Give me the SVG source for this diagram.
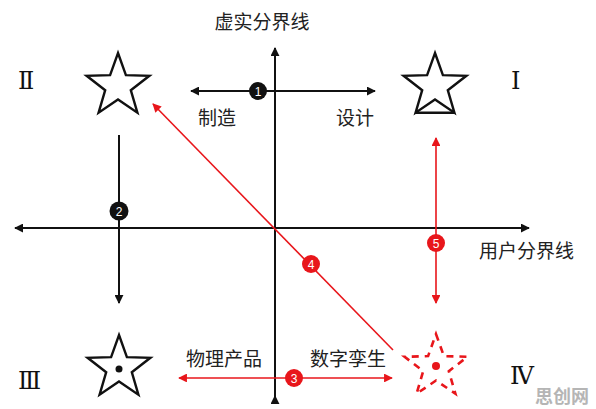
<svg xmlns="http://www.w3.org/2000/svg" width="596" height="409" viewBox="0 0 596 409">
<style>
.t{font-family:"Noto Sans CJK SC",sans-serif;font-size:19px;fill:#222}
.r{font-family:"DejaVu Serif","Liberation Serif","Noto Sans CJK SC",serif;font-size:24px;fill:#111}
.n{font-family:"Liberation Sans",Arial,sans-serif;font-size:12px;fill:#fff;text-anchor:middle}
.k{stroke:#111;stroke-width:2;fill:none}
.rd{stroke:#e8161b;stroke-width:1.6;fill:none}
.star{fill:#fff;stroke:#111;stroke-width:2.4;stroke-linejoin:miter}
</style>
<defs>
<marker id="ak" viewBox="0 0 10 10" refX="9" refY="5" markerWidth="4.5" markerHeight="4.5" orient="auto-start-reverse" markerUnits="strokeWidth"><path d="M0,0 L10,5 L0,10 Z" fill="#111"/></marker>
<marker id="ar" viewBox="0 0 10 10" refX="9" refY="5" markerWidth="5.5" markerHeight="5.5" orient="auto-start-reverse" markerUnits="strokeWidth"><path d="M0,0 L10,5 L0,10 Z" fill="#e8161b"/></marker>
<path id="sp" d="M0,-33 L7.9,-10.9 L31.4,-10.2 L12.8,4.2 L19.4,26.7 L0,13.5 L-19.4,26.7 L-12.8,4.2 L-31.4,-10.2 L-7.9,-10.9 Z"/>
</defs>
<g id="connectors">
<line class="k" x1="275" y1="397" x2="275" y2="48" marker-end="url(#ak)"/>
<line class="k" x1="15" y1="228" x2="529" y2="228" marker-start="url(#ak)" marker-end="url(#ak)"/>
<line class="k" x1="191" y1="91" x2="375" y2="91" marker-start="url(#ak)" marker-end="url(#ak)"/>
<line class="k" x1="119" y1="135" x2="119" y2="303" marker-end="url(#ak)"/>
<line class="rd" x1="179" y1="378" x2="392" y2="378" marker-start="url(#ar)" marker-end="url(#ar)"/>
<line class="rd" x1="393" y1="350" x2="153" y2="104" marker-end="url(#ar)"/>
<line class="rd" x1="436" y1="138" x2="436" y2="303" marker-start="url(#ar)" marker-end="url(#ar)"/>
<line class="k" x1="275" y1="397" x2="275" y2="396" marker-end="url(#ak)"/>
</g>
<g id="quadrant-II"><use href="#sp" class="star" x="118" y="86"/><text class="r" x="18" y="89">Ⅱ</text></g>
<g id="quadrant-I"><use href="#sp" class="star" x="435" y="86"/><line x1="415.6" y1="112.7" x2="454.4" y2="112.7" stroke="#111" stroke-width="2.4"/><text class="r" x="511" y="89">Ⅰ</text></g>
<g id="quadrant-III"><use href="#sp" class="star" x="119" y="368"/><circle cx="119" cy="369" r="3.5" fill="#111"/><text class="r" x="18" y="389">Ⅲ</text></g>
<g id="quadrant-IV"><use href="#sp" x="436" y="367" fill="none" stroke="#e8161b" stroke-width="2.6" stroke-dasharray="7,6"/><circle cx="436" cy="366" r="4" fill="#e8161b"/><text class="r" x="510" y="384">Ⅳ</text></g>
<g id="axis-labels">
<text class="t" x="262" y="29" text-anchor="middle">虚实分界线</text>
<text class="t" x="479" y="258">用户分界线</text>
</g>
<g id="edge-labels">
<text class="t" x="198" y="125">制造</text>
<text class="t" x="336" y="125">设计</text>
<text class="t" x="186" y="366">物理产品</text>
<text class="t" x="310" y="366">数字孪生</text>
</g>
<g id="badge-1"><circle cx="258" cy="91" r="9" fill="#111"/><text class="n" x="258" y="95.5">1</text></g>
<g id="badge-2"><circle cx="119" cy="211" r="9.5" fill="#111"/><text class="n" x="119" y="215.5">2</text></g>
<g id="badge-3"><circle cx="294" cy="378" r="9" fill="#e8161b"/><text class="n" x="294" y="382.5">3</text></g>
<g id="badge-4"><circle cx="311" cy="264" r="9" fill="#e8161b"/><text class="n" x="311" y="268.5">4</text></g>
<g id="badge-5"><circle cx="436" cy="243" r="9" fill="#e8161b"/><text class="n" x="436" y="247.5">5</text></g>
<text x="535" y="403" font-family="Noto Sans CJK SC,sans-serif" font-size="18" font-weight="bold" fill="#b5b5b5">思创网</text>
</svg>
